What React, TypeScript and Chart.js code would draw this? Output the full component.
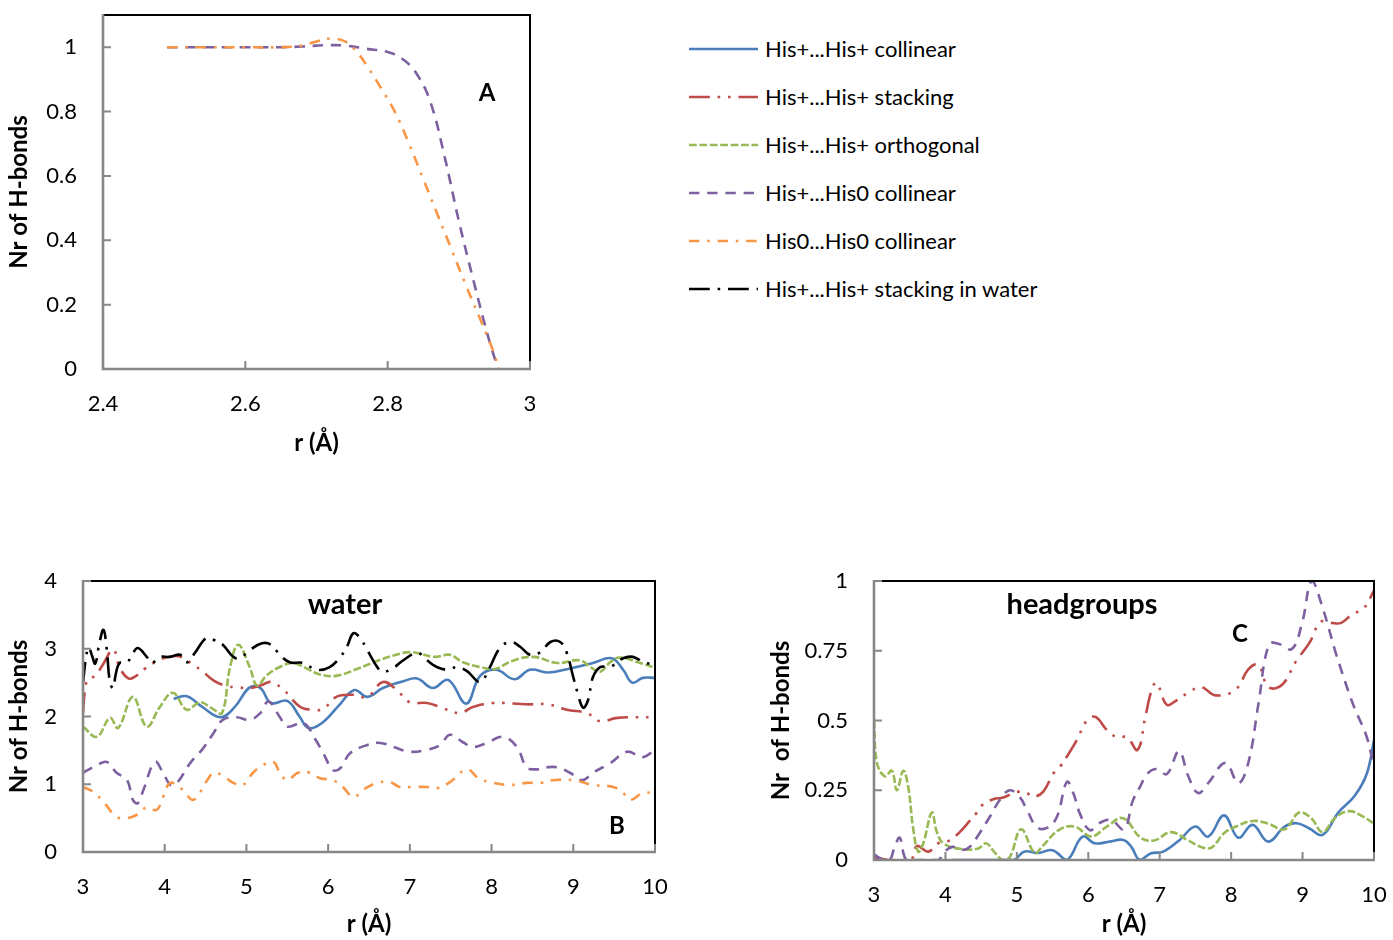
import { useEffect, useRef } from "react";
import { Chart, registerables } from "chart.js";

Chart.register(...registerables);

const FONT = "Lato, 'Open Sans', sans-serif";
const AXIS_GRAY = "#878787";

// ---------- Panel A: short-range H-bond count ----------
const aTicksX = [2.4, 2.6, 2.8, 3];
const aTicksY = [0, 0.2, 0.4, 0.6, 0.8, 1];
const aHisHis0R = [2.49, 2.55, 2.6, 2.65, 2.68, 2.71, 2.74, 2.77, 2.8, 2.82, 2.84, 2.86, 2.88, 2.9, 2.92, 2.94, 2.955];
const aHisHis0N = [1, 1, 1, 1, 1.002, 1.006, 1.005, 0.995, 0.985, 0.965, 0.92, 0.83, 0.66, 0.46, 0.28, 0.11, 0];
const aHis0His0R = [2.49, 2.55, 2.6, 2.65, 2.68, 2.7, 2.72, 2.74, 2.755, 2.77, 2.79, 2.81, 2.83, 2.85, 2.87, 2.89, 2.91, 2.93, 2.945, 2.957];
const aHis0His0N = [1, 1, 1, 1, 1.005, 1.018, 1.027, 1.018, 0.99, 0.945, 0.875, 0.8, 0.7, 0.59, 0.48, 0.37, 0.26, 0.155, 0.075, 0];

// ---------- Panel B: water ----------
const bTicksX = [3, 4, 5, 6, 7, 8, 9, 10];
const bTicksY = [0, 1, 2, 3, 4];
const bCollinearR = [4.11, 4.27, 4.45, 4.68, 4.85, 5.04, 5.17, 5.3, 5.5, 5.65, 5.76, 5.92, 6.13, 6.32, 6.48, 6.67, 6.92, 7.09, 7.28, 7.47, 7.69, 7.86, 8.06, 8.28, 8.47, 8.7, 8.96, 9.24, 9.47, 9.61, 9.72, 9.85, 10];
const bCollinearN = [2.26, 2.3, 2.15, 1.99, 2.13, 2.43, 2.42, 2.2, 2.23, 2.0, 1.83, 1.9, 2.16, 2.39, 2.29, 2.42, 2.52, 2.56, 2.42, 2.54, 2.19, 2.6, 2.69, 2.55, 2.69, 2.65, 2.71, 2.79, 2.86, 2.69, 2.5, 2.57, 2.57];
const bStackingR = [3.0, 3.02, 3.06, 3.15, 3.25, 3.37, 3.45, 3.56, 3.65, 3.75, 3.94, 4.1, 4.2, 4.33, 4.45, 4.6, 4.76, 4.9, 5.05, 5.2, 5.3, 5.45, 5.66, 5.82, 5.94, 6.1, 6.3, 6.48, 6.67, 6.84, 7.0, 7.21, 7.37, 7.61, 7.77, 8.02, 8.43, 8.68, 8.92, 9.17, 9.33, 9.54, 10];
const bStackingN = [2.05, 2.35, 2.55, 2.6, 2.78, 2.99, 2.72, 2.56, 2.6, 2.7, 2.84, 2.89, 2.88, 2.78, 2.68, 2.53, 2.45, 2.43, 2.42, 2.47, 2.51, 2.4, 2.14, 2.1, 2.11, 2.29, 2.32, 2.29, 2.51, 2.39, 2.21, 2.2, 2.14, 2.05, 2.14, 2.2, 2.18, 2.18, 2.1, 2.05, 1.93, 1.98, 1.99];
const bOrthogonalR = [3.0, 3.17, 3.33, 3.43, 3.61, 3.78, 3.94, 4.1, 4.27, 4.43, 4.58, 4.7, 4.8, 4.9, 5.04, 5.13, 5.25, 5.39, 5.57, 5.75, 5.9, 6.1, 6.35, 6.6, 6.8, 7.0, 7.15, 7.3, 7.49, 7.65, 7.86, 8.04, 8.25, 8.51, 8.8, 9.08, 9.22, 9.33, 9.45, 9.57, 9.82, 10];
const bOrthogonalN = [1.85, 1.7, 1.98, 1.83, 2.29, 1.85, 2.14, 2.35, 2.1, 2.21, 2.12, 2.05, 2.73, 3.06, 2.73, 2.46, 2.61, 2.72, 2.79, 2.7, 2.62, 2.6, 2.7, 2.82, 2.9, 2.95, 2.92, 2.88, 2.91, 2.8, 2.73, 2.7, 2.82, 2.88, 2.79, 2.83, 2.72, 2.66, 2.8, 2.87, 2.79, 2.72];
const bHisHis0R = [3.0, 3.17, 3.29, 3.41, 3.54, 3.61, 3.67, 3.74, 3.88, 3.98, 4.07, 4.15, 4.31, 4.47, 4.6, 4.71, 4.88, 5.04, 5.17, 5.27, 5.41, 5.5, 5.7, 5.85, 5.94, 6.06, 6.15, 6.27, 6.48, 6.64, 6.8, 7.0, 7.21, 7.37, 7.49, 7.65, 7.77, 7.94, 8.14, 8.31, 8.43, 8.55, 8.68, 8.8, 8.96, 9.11, 9.24, 9.45, 9.66, 9.85, 10];
const bHisHis0N = [1.17, 1.28, 1.33, 1.17, 1.06, 0.77, 0.72, 0.92, 1.33, 1.17, 0.99, 1.02, 1.31, 1.53, 1.76, 1.95, 1.99, 1.95, 2.05, 2.22, 1.99, 1.85, 1.9, 1.65, 1.46, 1.21, 1.24, 1.46, 1.58, 1.61, 1.55, 1.48, 1.51, 1.58, 1.73, 1.62, 1.55, 1.61, 1.7, 1.55, 1.25, 1.22, 1.25, 1.25, 1.17, 1.06, 1.17, 1.31, 1.48, 1.4, 1.51];
const bHis0His0R = [3.0, 3.12, 3.25, 3.41, 3.54, 3.66, 3.78, 3.9, 3.98, 4.07, 4.22, 4.35, 4.52, 4.6, 4.72, 4.84, 4.96, 5.08, 5.2, 5.33, 5.41, 5.5, 5.63, 5.78, 5.9, 6.06, 6.18, 6.31, 6.43, 6.6, 6.76, 6.88, 7.04, 7.21, 7.33, 7.49, 7.7, 7.84, 8.02, 8.23, 8.43, 8.6, 8.75, 9.0, 9.24, 9.49, 9.61, 9.7, 9.85, 10];
const bHis0His0N = [0.96, 0.89, 0.74, 0.52, 0.5, 0.55, 0.66, 0.62, 0.81, 1.02, 0.92, 0.77, 1.06, 1.17, 1.12, 1.02, 0.99, 1.17, 1.28, 1.33, 1.17, 1.06, 1.17, 1.17, 1.09, 1.06, 0.96, 0.81, 0.92, 1.02, 1.03, 0.96, 0.96, 0.96, 0.94, 1.03, 1.22, 1.09, 1.02, 0.99, 1.02, 1.02, 1.06, 1.06, 0.99, 0.96, 0.87, 0.77, 0.87, 0.87];
const bWaterR = [3.0, 3.04, 3.07, 3.11, 3.15, 3.2, 3.25, 3.29, 3.33, 3.37, 3.4, 3.45, 3.54, 3.6, 3.67, 3.78, 3.84, 3.94, 4.06, 4.19, 4.27, 4.37, 4.46, 4.52, 4.6, 4.71, 4.84, 4.92, 5.04, 5.19, 5.3, 5.41, 5.53, 5.69, 5.86, 6.02, 6.15, 6.23, 6.31, 6.39, 6.48, 6.6, 6.67, 6.8, 6.92, 7.09, 7.21, 7.33, 7.46, 7.58, 7.7, 7.86, 7.98, 8.1, 8.23, 8.35, 8.47, 8.6, 8.72, 8.84, 8.92, 9.0, 9.05, 9.12, 9.18, 9.24, 9.33, 9.45, 9.61, 9.73, 9.88, 10];
const bWaterN = [2.5, 2.9, 3.02, 2.9, 2.78, 3.08, 3.28, 3.0, 2.5, 2.42, 2.62, 2.79, 2.8, 2.91, 3.01, 2.88, 2.79, 2.88, 2.88, 2.91, 2.8, 2.94, 3.1, 3.16, 3.13, 3.06, 2.88, 2.86, 2.98, 3.08, 3.06, 2.91, 2.8, 2.79, 2.69, 2.73, 2.88, 3.03, 3.23, 3.16, 2.98, 2.73, 2.66, 2.72, 2.83, 2.94, 2.83, 2.73, 2.69, 2.73, 2.67, 2.51, 2.73, 3.01, 3.1, 3.03, 2.91, 2.95, 3.1, 3.1, 2.94, 2.58, 2.36, 2.13, 2.24, 2.58, 2.73, 2.73, 2.86, 2.88, 2.79, 2.79];

// ---------- Panel C: headgroups ----------
const cTicksX = [3, 4, 5, 6, 7, 8, 9, 10];
const cTicksY = [0, 0.25, 0.5, 0.75, 1];
const cCollinearR = [4.1, 4.95, 5.1, 5.3, 5.5, 5.7, 5.92, 6.09, 6.3, 6.49, 6.6, 6.72, 6.88, 7.05, 7.28, 7.5, 7.68, 7.9, 8.1, 8.3, 8.52, 8.75, 8.92, 9.09, 9.28, 9.5, 9.73, 9.9, 10];
const cCollinearN = [0, 0, 0.03, 0.025, 0.035, 0, 0.084, 0.06, 0.066, 0.072, 0.048, 0, 0.024, 0.03, 0.072, 0.12, 0.084, 0.16, 0.08, 0.126, 0.066, 0.12, 0.132, 0.114, 0.09, 0.17, 0.23, 0.31, 0.43];
const cStackingR = [3.0, 3.2, 3.4, 3.52, 3.6, 3.76, 3.9, 4.06, 4.2, 4.34, 4.44, 4.53, 4.67, 4.81, 5.0, 5.14, 5.23, 5.37, 5.51, 5.6, 5.74, 5.84, 5.98, 6.1, 6.26, 6.4, 6.54, 6.69, 6.8, 6.9, 6.96, 7.1, 7.24, 7.4, 7.58, 7.78, 8.06, 8.24, 8.38, 8.52, 8.71, 8.91, 9.1, 9.25, 9.4, 9.54, 9.7, 9.85, 10];
const cStackingN = [0.01, 0.0, 0.0, 0.0, 0.05, 0.03, 0.06, 0.07, 0.1, 0.14, 0.17, 0.2, 0.218, 0.224, 0.244, 0.24, 0.226, 0.245, 0.31, 0.333, 0.387, 0.43, 0.5, 0.513, 0.466, 0.44, 0.44, 0.395, 0.515, 0.62, 0.635, 0.556, 0.573, 0.6, 0.62, 0.59, 0.61, 0.683, 0.7, 0.62, 0.627, 0.713, 0.78, 0.853, 0.85, 0.85, 0.882, 0.9, 0.965];
const cOrthogonalR = [3.0, 3.04, 3.15, 3.25, 3.32, 3.41, 3.48, 3.55, 3.62, 3.69, 3.81, 3.88, 3.97, 4.2, 4.45, 4.57, 4.68, 4.8, 4.9, 5.06, 5.25, 5.36, 5.59, 5.81, 6.04, 6.26, 6.49, 6.73, 6.92, 7.16, 7.4, 7.6, 7.73, 7.9, 8.07, 8.3, 8.52, 8.75, 8.95, 9.12, 9.28, 9.45, 9.65, 9.85, 10];
const cOrthogonalN = [0.5, 0.35, 0.3, 0.32, 0.25, 0.32, 0.26, 0.11, 0.03, 0.06, 0.17, 0.1, 0.06, 0.04, 0.04, 0.06, 0.03, 0.0, 0.01, 0.11, 0.025, 0.05, 0.108, 0.12, 0.084, 0.12, 0.15, 0.08, 0.07, 0.1, 0.07, 0.045, 0.045, 0.096, 0.12, 0.14, 0.13, 0.11, 0.17, 0.15, 0.1, 0.15, 0.175, 0.155, 0.13];
const cHisHis0R = [3.0, 3.13, 3.22, 3.29, 3.36, 3.43, 3.5, 3.9, 3.97, 4.1, 4.23, 4.34, 4.48, 4.62, 4.76, 4.9, 5.04, 5.14, 5.28, 5.42, 5.56, 5.7, 5.79, 5.88, 6.02, 6.16, 6.32, 6.5, 6.62, 6.72, 6.83, 6.96, 7.1, 7.27, 7.4, 7.54, 7.68, 7.92, 8.1, 8.24, 8.38, 8.53, 8.67, 8.85, 8.99, 9.13, 9.29, 9.47, 9.71, 9.9, 10];
const cHisHis0N = [0.02, 0.0, 0.0, 0.047, 0.08, 0.01, 0.0, 0.0, 0.025, 0.047, 0.036, 0.047, 0.097, 0.154, 0.215, 0.25, 0.226, 0.18, 0.118, 0.115, 0.154, 0.28, 0.24, 0.168, 0.107, 0.133, 0.144, 0.11, 0.21, 0.26, 0.31, 0.326, 0.308, 0.39, 0.3, 0.24, 0.276, 0.348, 0.276, 0.348, 0.556, 0.774, 0.774, 0.756, 0.846, 1.0, 0.896, 0.738, 0.556, 0.44, 0.33];

type SeriesKey = "collinear" | "stacking" | "orthogonal" | "hisHis0" | "his0His0" | "water";

const W = 2.6; // line width; dash units are multiples of it
const STYLE: Record<SeriesKey, { label: string; color: string; dash: number[]; z: number }> = {
  collinear: { label: "His+...His+ collinear", color: "#4A7EBB", dash: [], z: 5 },
  stacking: { label: "His+...His+ stacking", color: "#BE4B48", dash: [8 * W, 3 * W, W, 3 * W, W, 3 * W], z: 4 },
  orthogonal: { label: "His+...His+ orthogonal", color: "#98B954", dash: [3 * W, W], z: 3 },
  hisHis0: { label: "His+...His0 collinear", color: "#7D60A0", dash: [4 * W, 3 * W], z: 2 },
  his0His0: { label: "His0...His0 collinear", color: "#F79646", dash: [4 * W, 3 * W, W, 3 * W], z: 1 },
  water: { label: "His+...His+ stacking in water", color: "#000000", dash: [8 * W, 3 * W, W, 3 * W], z: 0 },
};
const LEGEND_ORDER: SeriesKey[] = ["collinear", "stacking", "orthogonal", "hisHis0", "his0His0", "water"];

type Note = { text: string; x: number; y: number; size: number };
type PanelCfg = {
  left: number; top: number; width: number; height: number;
  padding: { left: number; top: number; right: number; bottom: number };
  yWidth: number; xHeight: number;
  xMin: number; xMax: number; yMin: number; yMax: number;
  xTicks: number[]; yTicks: number[];
  yTitle: string; yTitlePad: number;
  series: { key: SeriesKey; xs: number[]; ys: number[] }[];
  notes: Note[];
};

const PANELS: PanelCfg[] = [
  {
    left: 0, top: 0, width: 560, height: 458,
    padding: { left: 0, top: 15, right: 30, bottom: 0 },
    yWidth: 103, xHeight: 89,
    xMin: 2.4, xMax: 3, yMin: 0, yMax: 1.1,
    xTicks: aTicksX, yTicks: aTicksY,
    yTitle: "Nr of H-bonds", yTitlePad: 5,
    series: [
      { key: "hisHis0", xs: aHisHis0R, ys: aHisHis0N },
      { key: "his0His0", xs: aHis0His0R, ys: aHis0His0N },
    ],
    notes: [{ text: "A", x: 487, y: 93, size: 24 }],
  },
  {
    left: 0, top: 560, width: 680, height: 379,
    padding: { left: 0, top: 21, right: 25, bottom: 0 },
    yWidth: 83, xHeight: 87,
    xMin: 3, xMax: 10, yMin: 0, yMax: 4,
    xTicks: bTicksX, yTicks: bTicksY,
    yTitle: "Nr of H-bonds", yTitlePad: 5,
    series: [
      { key: "collinear", xs: bCollinearR, ys: bCollinearN },
      { key: "stacking", xs: bStackingR, ys: bStackingN },
      { key: "orthogonal", xs: bOrthogonalR, ys: bOrthogonalN },
      { key: "hisHis0", xs: bHisHis0R, ys: bHisHis0N },
      { key: "his0His0", xs: bHis0His0R, ys: bHis0His0N },
      { key: "water", xs: bWaterR, ys: bWaterN },
    ],
    notes: [
      { text: "water", x: 345, y: 45, size: 29 },
      { text: "B", x: 617, y: 266, size: 24 },
    ],
  },
  {
    left: 760, top: 560, width: 633, height: 379,
    padding: { left: 0, top: 21, right: 19, bottom: 0 },
    yWidth: 114, xHeight: 79,
    xMin: 3, xMax: 10, yMin: 0, yMax: 1,
    xTicks: cTicksX, yTicks: cTicksY,
    yTitle: "Nr  of H-bonds", yTitlePad: 7,
    series: [
      { key: "collinear", xs: cCollinearR, ys: cCollinearN },
      { key: "stacking", xs: cStackingR, ys: cStackingN },
      { key: "orthogonal", xs: cOrthogonalR, ys: cOrthogonalN },
      { key: "hisHis0", xs: cHisHis0R, ys: cHisHis0N },
    ],
    notes: [
      { text: "headgroups", x: 322, y: 45, size: 29 },
      { text: "C", x: 480, y: 74, size: 24 },
    ],
  },
];

// Plot frame: black top/right border, grey axes with inward tick marks, panel captions
const framePlugin = {
  id: "frame",
  afterDatasetsDraw(chart: any, _args: any, opts: any) {
    const { ctx, chartArea, scales } = chart;
    const { left, top, right, bottom } = chartArea;
    ctx.save();
    ctx.lineCap = "butt";
    ctx.strokeStyle = "#000";
    ctx.lineWidth = 2;
    ctx.beginPath();
    ctx.moveTo(left, top);
    ctx.lineTo(right, top);
    ctx.lineTo(right, bottom);
    ctx.stroke();

    ctx.strokeStyle = AXIS_GRAY;
    ctx.lineWidth = 2;
    const tl = 8;
    ctx.beginPath();
    for (const t of scales.x.ticks) {
      const px = scales.x.getPixelForValue(t.value);
      ctx.moveTo(px, bottom);
      ctx.lineTo(px, bottom - tl);
    }
    for (const t of scales.y.ticks) {
      const py = scales.y.getPixelForValue(t.value);
      ctx.moveTo(left, py);
      ctx.lineTo(left + tl, py);
    }
    ctx.stroke();

    ctx.lineWidth = 2.6;
    ctx.beginPath();
    ctx.moveTo(left, top - 1);
    ctx.lineTo(left, bottom);
    ctx.lineTo(right + 1, bottom);
    ctx.stroke();

    ctx.fillStyle = "#000";
    ctx.textAlign = "center";
    ctx.textBaseline = "middle";
    for (const n of (opts.notes || []) as Note[]) {
      ctx.font = `bold ${n.size}px ${FONT}`;
      ctx.fillText(n.text, n.x, n.y);
    }
    ctx.restore();
  },
};

function Panel({ cfg }: { cfg: PanelCfg }) {
  const ref = useRef<HTMLCanvasElement>(null);
  useEffect(() => {
    const tickFont = { family: FONT, size: 22 };
    const titleFont = { family: FONT, size: 24, weight: "bold" as const };
    const chart = new Chart(ref.current!, {
      type: "line",
      data: {
        datasets: cfg.series.map((s) => {
          const st = STYLE[s.key];
          return {
            label: st.label,
            data: s.xs.map((x, i) => ({ x, y: s.ys[i] })),
            borderColor: st.color,
            backgroundColor: st.color,
            borderWidth: W,
            borderDash: st.dash,
            borderCapStyle: "butt" as const,
            borderJoinStyle: "round" as const,
            pointRadius: 0,
            tension: 0.4,
            fill: false,
            order: st.z,
          };
        }),
      },
      options: {
        responsive: false,
        animation: false,
        events: [],
        layout: { padding: cfg.padding },
        plugins: {
          legend: { display: false },
          tooltip: { enabled: false },
          frame: { notes: cfg.notes },
        } as any,
        scales: {
          x: {
            type: "linear",
            min: cfg.xMin,
            max: cfg.xMax,
            afterBuildTicks: (s: any) => { s.ticks = cfg.xTicks.map((v) => ({ value: v })); },
            afterFit: (s: any) => { s.height = cfg.xHeight; s.paddingLeft = 0; s.paddingRight = 0; },
            grid: { display: false, drawTicks: false },
            border: { display: false },
            ticks: { callback: (v: any) => String(v), autoSkip: false, maxRotation: 0, padding: 22, color: "#000", font: tickFont },
            title: { display: true, text: "r (Å)", color: "#000", font: titleFont, padding: { top: 0, bottom: 0 } },
          },
          y: {
            type: "linear",
            min: cfg.yMin,
            max: cfg.yMax,
            afterBuildTicks: (s: any) => { s.ticks = cfg.yTicks.map((v) => ({ value: v })); },
            afterFit: (s: any) => { s.width = cfg.yWidth; s.paddingTop = 0; s.paddingBottom = 0; },
            grid: { display: false, drawTicks: false },
            border: { display: false },
            ticks: { callback: (v: any) => String(v), autoSkip: false, padding: 26, color: "#000", font: tickFont },
            title: { display: true, text: cfg.yTitle, color: "#000", font: titleFont, padding: { top: cfg.yTitlePad, bottom: 0 } },
          },
        },
      },
      plugins: [framePlugin],
    });
    return () => chart.destroy();
  }, [cfg]);
  return (
    <canvas
      ref={ref}
      width={cfg.width}
      height={cfg.height}
      style={{ position: "absolute", left: cfg.left, top: cfg.top, width: cfg.width, height: cfg.height }}
    />
  );
}

function Legend() {
  return (
    <div style={{ position: "absolute", left: 689, top: 0 }}>
      {LEGEND_ORDER.map((k, i) => {
        const st = STYLE[k];
        return (
          <div
            key={k}
            style={{ position: "absolute", left: 0, top: 49 + 48 * i - 15, height: 30, display: "flex", alignItems: "center", whiteSpace: "nowrap" }}
          >
            <svg width={69} height={30} style={{ display: "block" }}>
              <line
                x1={0}
                x2={69}
                y1={15}
                y2={15}
                stroke={st.color}
                strokeWidth={W}
                strokeDasharray={st.dash.length ? st.dash.join(" ") : undefined}
              />
            </svg>
            <span style={{ marginLeft: 7, fontFamily: FONT, fontSize: 22, color: "#000", lineHeight: "30px" }}>{st.label}</span>
          </div>
        );
      })}
    </div>
  );
}

export default function App() {
  return (
    <div style={{ position: "absolute", left: 0, top: 0, width: 1393, height: 940, background: "#fff", overflow: "hidden" }}>
      {PANELS.map((p, i) => (
        <Panel key={i} cfg={p} />
      ))}
      <Legend />
    </div>
  );
}
